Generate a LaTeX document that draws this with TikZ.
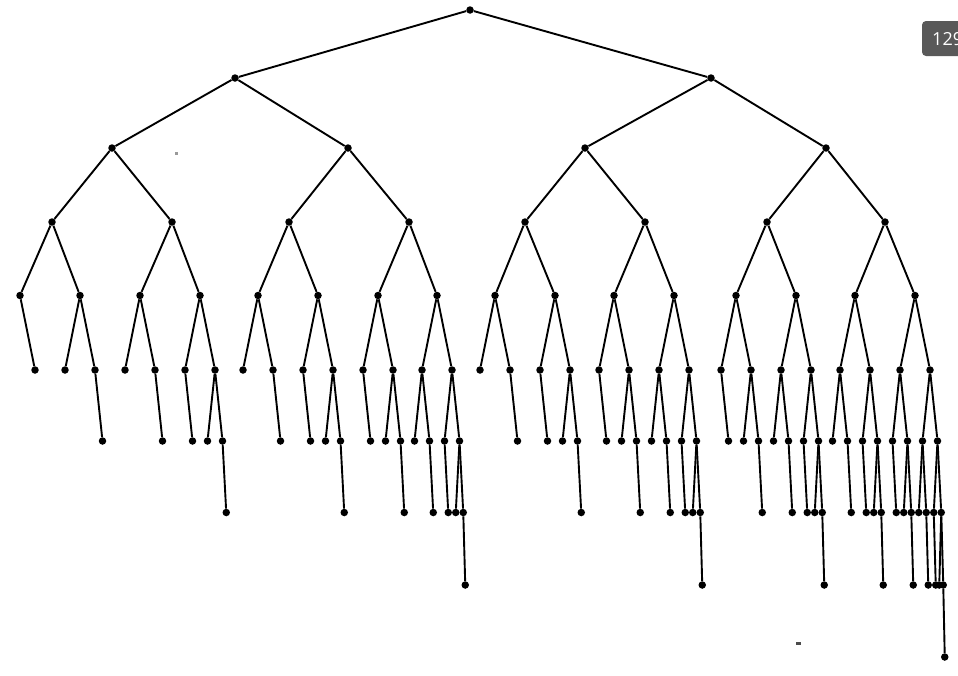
\documentclass[tikz,border=0pt]{standalone}
\usepackage{fontspec}
\newfontfamily\badgefont{Open Sans}
% children of Fibonacci-type subtrees: T_k = node(T_{k-2}, T_{k-1})
\def\kA{}
\def\kB{child[missing] child{node[dot]{}\kA}}
\def\kC{child{node[dot]{}\kA} child{node[dot]{}\kB}}
\def\kD{child{node[dot]{}\kB} child{node[dot]{}\kC}}
\def\kE{child{node[dot]{}\kC} child{node[dot]{}\kD}}
\def\kF{child{node[dot]{}\kD} child{node[dot]{}\kE}}
\begin{document}
\begin{tikzpicture}[x=1pt,y=-1pt,
  dot/.style={circle,fill=black,inner sep=0pt,minimum size=7.5pt},
  link/.style={line width=1.9pt},
  edge from parent/.style={draw,line width=1.9pt},
  level 1/.style={level distance=74.5pt,sibling distance=30pt},
  level 2/.style={level distance=71pt,sibling distance=15pt},
  level 3/.style={level distance=71.5pt,sibling distance=7.5pt},
  level 4/.style={level distance=72.5pt,sibling distance=4pt},
  level 5/.style={level distance=72pt,sibling distance=3pt}]
\useasboundingbox (0,0) rectangle (958,675);
\clip (0,0) rectangle (958,675);
\fill[white] (0,0) rectangle (958,675);
% upper levels
\node[dot] (r) at (470,10) {};
\node[dot] (a1) at (235,78) {};
\node[dot] (a2) at (711,78) {};
\node[dot] (b1) at (112,148) {};
\node[dot] (b2) at (348,148) {};
\node[dot] (b3) at (585,148) {};
\node[dot] (b4) at (826,148) {};
\node[dot] (c1) at (52,222) {};
\node[dot] (c2) at (172,222) {};
\node[dot] (c3) at (289,222) {};
\node[dot] (c4) at (409,222) {};
\node[dot] (c5) at (525,222) {};
\node[dot] (c6) at (645,222) {};
\node[dot] (c7) at (767,222) {};
\node[dot] (c8) at (885,222) {};
% level 4 nodes with their subtrees
\node[dot] (d1) at (20,295.5) {} \kB;
\node[dot] (d2) at (80,295.5) {} \kC;
\node[dot] (d3) at (140,295.5) {} \kC;
\node[dot] (d4) at (200,295.5) {} \kD;
\node[dot] (d5) at (258,295.5) {} \kC;
\node[dot] (d6) at (318,295.5) {} \kD;
\node[dot] (d7) at (378,295.5) {} \kD;
\node[dot] (d8) at (437,295.5) {} \kE;
\node[dot] (d9) at (495,295.5) {} \kC;
\node[dot] (d10) at (555,295.5) {} \kD;
\node[dot] (d11) at (614,295.5) {} \kD;
\node[dot] (d12) at (674,295.5) {} \kE;
\node[dot] (d13) at (736,295.5) {} \kD;
\node[dot] (d14) at (796,295.5) {} \kE;
\node[dot] (d15) at (855,295.5) {} \kE;
\node[dot] (d16) at (915,295.5) {} \kF;
% upper connectors
\draw[link] (r) -- (a1);
\draw[link] (r) -- (a2);
\draw[link] (a1) -- (b1);
\draw[link] (a1) -- (b2);
\draw[link] (a2) -- (b3);
\draw[link] (a2) -- (b4);
\draw[link] (b1) -- (c1);
\draw[link] (b1) -- (c2);
\draw[link] (b2) -- (c3);
\draw[link] (b2) -- (c4);
\draw[link] (b3) -- (c5);
\draw[link] (b3) -- (c6);
\draw[link] (b4) -- (c7);
\draw[link] (b4) -- (c8);
\draw[link] (c1) -- (d1);
\draw[link] (c1) -- (d2);
\draw[link] (c2) -- (d3);
\draw[link] (c2) -- (d4);
\draw[link] (c3) -- (d5);
\draw[link] (c3) -- (d6);
\draw[link] (c4) -- (d7);
\draw[link] (c4) -- (d8);
\draw[link] (c5) -- (d9);
\draw[link] (c5) -- (d10);
\draw[link] (c6) -- (d11);
\draw[link] (c6) -- (d12);
\draw[link] (c7) -- (d13);
\draw[link] (c7) -- (d14);
\draw[link] (c8) -- (d15);
\draw[link] (c8) -- (d16);
% scan specks
\fill[gray!80] (175,152) rectangle (178,155);
\fill[black!70] (796,642) rectangle (801,645);
% page badge
\fill[black!65,rounded corners=4pt] (922,21) rectangle (975,56);
\node[anchor=base west,text=white,inner sep=0pt,font=\badgefont\fontsize{18}{18}\selectfont] (pg) at (932,45) {129};
\end{tikzpicture}
\end{document}
